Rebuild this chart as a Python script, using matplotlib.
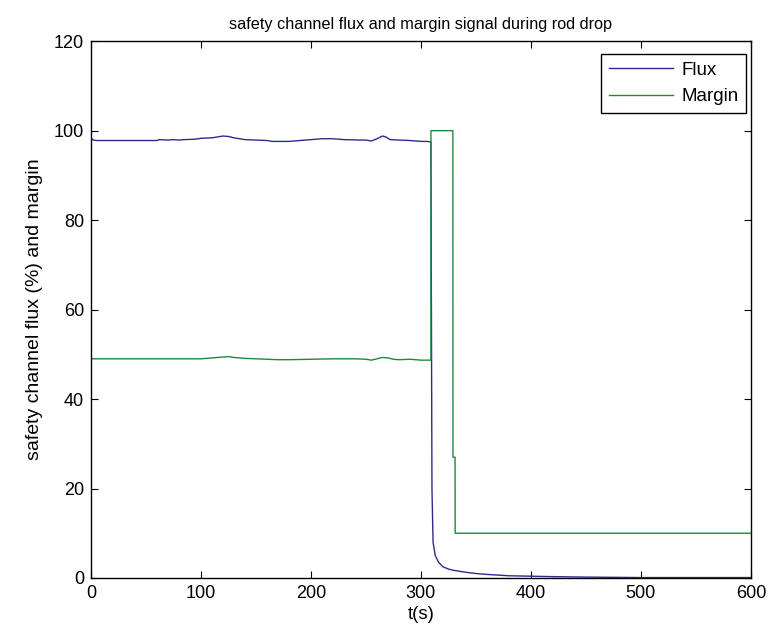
import numpy as np
import matplotlib
matplotlib.use("Agg")
import matplotlib.pyplot as plt

plt.rcParams['font.family'] = ['Liberation Sans', 'DejaVu Sans']

# flux signal (%)
flux_t = [0, 2, 5, 60, 62, 70, 75, 80, 85, 95, 100, 110, 115, 120, 125, 130, 135, 140,
          150, 160, 165, 170, 180, 190, 200, 205, 210, 220, 230, 245, 250, 255, 260,
          265, 268, 272, 280, 290, 300, 305, 309, 309.5, 310, 311, 313, 316, 320, 325,
          330, 340, 350, 360, 380, 400, 420, 450, 500, 550, 600]
flux_v = [98.3, 97.9, 97.8, 97.8, 98.0, 97.9, 98.0, 97.9, 98.0, 98.1, 98.3, 98.4, 98.6,
          98.8, 98.7, 98.4, 98.2, 98.0, 97.9, 97.8, 97.6, 97.6, 97.6, 97.8, 98.0, 98.1,
          98.2, 98.2, 98.0, 97.9, 97.9, 97.7, 98.2, 98.8, 98.6, 98.0, 97.9, 97.8, 97.6,
          97.6, 97.5, 60.0, 20.0, 8.0, 5.0, 3.5, 2.5, 2.0, 1.7, 1.3, 1.0, 0.8, 0.5, 0.4,
          0.3, 0.2, 0.1, 0.1, 0.1]

# margin signal
margin_t = [0, 20, 40, 60, 80, 100, 110, 120, 125, 130, 140, 160, 170, 180, 200, 220,
            240, 250, 255, 260, 265, 270, 275, 280, 290, 300, 309, 309.1, 329, 329.1,
            331, 331.1, 600]
margin_v = [49.0, 49.0, 49.0, 49.0, 49.0, 49.0, 49.2, 49.4, 49.5, 49.3, 49.1, 48.9,
            48.8, 48.8, 48.9, 49.0, 49.0, 48.9, 48.7, 49.0, 49.3, 49.2, 48.9, 48.8,
            48.9, 48.7, 48.7, 100.0, 100.0, 27.0, 27.0, 10.0, 10.0]

fig = plt.figure(figsize=(7.8, 6.33), dpi=100)
ax = fig.add_axes([0.1167, 0.0869, 0.846, 0.848])

ax.plot(flux_t, flux_v, color='#2c2c8c', lw=1.0, label='Flux')
ax.plot(margin_t, margin_v, color='#1d8a3a', lw=1.0, label='Margin')

ax.set_xlim(0, 600)
ax.set_ylim(0, 120)
ax.set_xticks(np.arange(0, 601, 100))
ax.set_yticks(np.arange(0, 121, 20))
ax.tick_params(direction='in', top=True, right=True, labelsize=13, length=5, pad=5)
for s in ax.spines.values():
    s.set_linewidth(1.0)

ax.set_title('safety channel flux and margin signal during rod drop', fontsize=11.7, pad=9)
ax.set_xlabel('t(s)', fontsize=13.5, labelpad=3)
ax.set_ylabel('safety channel flux (%) and margin', fontsize=14, labelpad=8)

leg = ax.legend(loc='upper right', bbox_to_anchor=(0.9924, 0.9758), borderaxespad=0,
                fontsize=13.5, fancybox=False, framealpha=1, edgecolor='black',
                handlelength=3.4, handletextpad=0.45, labelspacing=0.5, borderpad=0.4)
leg.get_frame().set_linewidth(1.0)

fig.savefig('out.png', dpi=100)
